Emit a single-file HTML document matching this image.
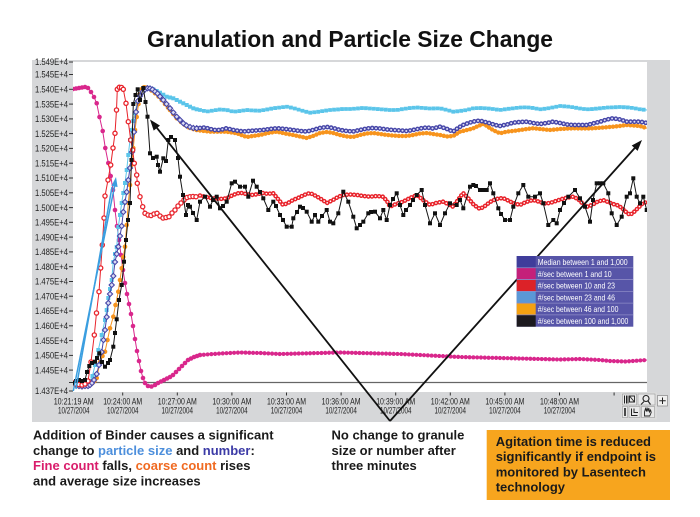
<!DOCTYPE html>
<html><head><meta charset="utf-8"><style>
html,body{margin:0;padding:0;background:#fff;}
svg{display:block;}
</style></head><body>
<svg width="700" height="517" viewBox="0 0 700 517" xmlns="http://www.w3.org/2000/svg" font-family="Liberation Sans, Arial, sans-serif">
<defs>
<clipPath id="pc"><rect x="73" y="62" width="574" height="330"/></clipPath>
<marker id="mMag" markerUnits="userSpaceOnUse" markerWidth="8" markerHeight="8" refX="4" refY="4" overflow="visible"><circle cx="4" cy="4" r="2.3" fill="#d9278c"/></marker>
<marker id="mRed" markerUnits="userSpaceOnUse" markerWidth="8" markerHeight="8" refX="4" refY="4" overflow="visible"><circle cx="4" cy="4" r="2.1" fill="#fff" stroke="#e8232b" stroke-width="1.3"/></marker>
<marker id="mBlk" markerUnits="userSpaceOnUse" markerWidth="8" markerHeight="8" refX="4" refY="4" overflow="visible"><rect x="2" y="2" width="4" height="4" fill="#111"/></marker>
<marker id="mMed" markerUnits="userSpaceOnUse" markerWidth="8" markerHeight="8" refX="4" refY="4" overflow="visible"><path d="M4 1.4 L6.6 4 L4 6.6 L1.4 4 Z" fill="#dcdcf4" stroke="#4646a8" stroke-width="1.1"/></marker>
<marker id="mOra" markerUnits="userSpaceOnUse" markerWidth="8" markerHeight="8" refX="4" refY="4" overflow="visible"><circle cx="4" cy="4" r="2.3" fill="#f7941d"/></marker>
<marker id="mLb" markerUnits="userSpaceOnUse" markerWidth="8" markerHeight="8" refX="4" refY="4" overflow="visible"><rect x="2" y="2" width="4" height="4" fill="#5bc5ea"/></marker>
</defs>

<!-- Title -->
<text x="350" y="47" text-anchor="middle" font-size="23" font-weight="bold" fill="#111" textLength="406" lengthAdjust="spacingAndGlyphs">Granulation and Particle Size Change</text>

<!-- Chart panel -->
<rect x="32" y="60" width="638" height="362" fill="#d6d7d9"/>
<rect x="73" y="62" width="574" height="330" fill="#fff"/>
<line x1="73" y1="382.5" x2="647" y2="382.5" stroke="#666" stroke-width="1.2"/>

<!-- Y axis labels -->
<g font-size="9" fill="#222" text-anchor="end">
<text x="68" y="65.2" textLength="33" lengthAdjust="spacingAndGlyphs">1.549E+4</text>
<text x="68" y="77.7" textLength="33" lengthAdjust="spacingAndGlyphs">1.545E+4</text>
<text x="68" y="92.5" textLength="33" lengthAdjust="spacingAndGlyphs">1.540E+4</text>
<text x="68" y="107.3" textLength="33" lengthAdjust="spacingAndGlyphs">1.535E+4</text>
<text x="68" y="122.1" textLength="33" lengthAdjust="spacingAndGlyphs">1.530E+4</text>
<text x="68" y="136.8" textLength="33" lengthAdjust="spacingAndGlyphs">1.525E+4</text>
<text x="68" y="151.6" textLength="33" lengthAdjust="spacingAndGlyphs">1.520E+4</text>
<text x="68" y="166.4" textLength="33" lengthAdjust="spacingAndGlyphs">1.515E+4</text>
<text x="68" y="181.2" textLength="33" lengthAdjust="spacingAndGlyphs">1.510E+4</text>
<text x="68" y="196" textLength="33" lengthAdjust="spacingAndGlyphs">1.505E+4</text>
<text x="68" y="210.8" textLength="33" lengthAdjust="spacingAndGlyphs">1.500E+4</text>
<text x="68" y="225.5" textLength="33" lengthAdjust="spacingAndGlyphs">1.495E+4</text>
<text x="68" y="240.3" textLength="33" lengthAdjust="spacingAndGlyphs">1.490E+4</text>
<text x="68" y="255.1" textLength="33" lengthAdjust="spacingAndGlyphs">1.485E+4</text>
<text x="68" y="269.9" textLength="33" lengthAdjust="spacingAndGlyphs">1.480E+4</text>
<text x="68" y="284.7" textLength="33" lengthAdjust="spacingAndGlyphs">1.475E+4</text>
<text x="68" y="299.4" textLength="33" lengthAdjust="spacingAndGlyphs">1.470E+4</text>
<text x="68" y="314.2" textLength="33" lengthAdjust="spacingAndGlyphs">1.465E+4</text>
<text x="68" y="329" textLength="33" lengthAdjust="spacingAndGlyphs">1.460E+4</text>
<text x="68" y="343.8" textLength="33" lengthAdjust="spacingAndGlyphs">1.455E+4</text>
<text x="68" y="358.6" textLength="33" lengthAdjust="spacingAndGlyphs">1.450E+4</text>
<text x="68" y="373.3" textLength="33" lengthAdjust="spacingAndGlyphs">1.445E+4</text>
<text x="68" y="394.2" textLength="33" lengthAdjust="spacingAndGlyphs">1.437E+4</text>
</g>
<g stroke="#333" stroke-width="1">
<line x1="69" y1="62" x2="73" y2="62"/><line x1="69" y1="74.5" x2="73" y2="74.5"/><line x1="69" y1="89.3" x2="73" y2="89.3"/>
<line x1="69" y1="104.1" x2="73" y2="104.1"/><line x1="69" y1="118.9" x2="73" y2="118.9"/><line x1="69" y1="133.6" x2="73" y2="133.6"/>
<line x1="69" y1="148.4" x2="73" y2="148.4"/><line x1="69" y1="163.2" x2="73" y2="163.2"/><line x1="69" y1="178" x2="73" y2="178"/>
<line x1="69" y1="192.8" x2="73" y2="192.8"/><line x1="69" y1="207.6" x2="73" y2="207.6"/><line x1="69" y1="222.3" x2="73" y2="222.3"/>
<line x1="69" y1="237.1" x2="73" y2="237.1"/><line x1="69" y1="251.9" x2="73" y2="251.9"/><line x1="69" y1="266.7" x2="73" y2="266.7"/>
<line x1="69" y1="281.5" x2="73" y2="281.5"/><line x1="69" y1="296.2" x2="73" y2="296.2"/><line x1="69" y1="311" x2="73" y2="311"/>
<line x1="69" y1="325.8" x2="73" y2="325.8"/><line x1="69" y1="340.6" x2="73" y2="340.6"/><line x1="69" y1="355.4" x2="73" y2="355.4"/>
<line x1="69" y1="370.1" x2="73" y2="370.1"/><line x1="69" y1="382.5" x2="73" y2="382.5"/><line x1="69" y1="391" x2="73" y2="391"/>
</g>

<!-- X ticks -->
<g stroke="#333" stroke-width="1">
<line x1="122.7" y1="392.5" x2="122.7" y2="395.5"/><line x1="177.3" y1="392.5" x2="177.3" y2="395.5"/>
<line x1="231.9" y1="392.5" x2="231.9" y2="395.5"/><line x1="286.5" y1="392.5" x2="286.5" y2="395.5"/>
<line x1="341.1" y1="392.5" x2="341.1" y2="395.5"/><line x1="395.7" y1="392.5" x2="395.7" y2="395.5"/>
<line x1="450.3" y1="392.5" x2="450.3" y2="395.5"/><line x1="504.9" y1="392.5" x2="504.9" y2="395.5"/>
<line x1="559.5" y1="392.5" x2="559.5" y2="395.5"/><line x1="614.1" y1="392.5" x2="614.1" y2="395.5"/>
</g>
<g font-size="9" fill="#222" text-anchor="middle">
<text x="73.7" y="404.5" textLength="40" lengthAdjust="spacingAndGlyphs">10:21:19 AM</text><text x="73.7" y="413.5" textLength="31.5" lengthAdjust="spacingAndGlyphs">10/27/2004</text>
<text x="122.7" y="404.5" textLength="39" lengthAdjust="spacingAndGlyphs">10:24:00 AM</text><text x="122.7" y="413.5" textLength="31.5" lengthAdjust="spacingAndGlyphs">10/27/2004</text>
<text x="177.3" y="404.5" textLength="39" lengthAdjust="spacingAndGlyphs">10:27:00 AM</text><text x="177.3" y="413.5" textLength="31.5" lengthAdjust="spacingAndGlyphs">10/27/2004</text>
<text x="231.9" y="404.5" textLength="39" lengthAdjust="spacingAndGlyphs">10:30:00 AM</text><text x="231.9" y="413.5" textLength="31.5" lengthAdjust="spacingAndGlyphs">10/27/2004</text>
<text x="286.5" y="404.5" textLength="39" lengthAdjust="spacingAndGlyphs">10:33:00 AM</text><text x="286.5" y="413.5" textLength="31.5" lengthAdjust="spacingAndGlyphs">10/27/2004</text>
<text x="341.1" y="404.5" textLength="39" lengthAdjust="spacingAndGlyphs">10:36:00 AM</text><text x="341.1" y="413.5" textLength="31.5" lengthAdjust="spacingAndGlyphs">10/27/2004</text>
<text x="395.7" y="404.5" textLength="39" lengthAdjust="spacingAndGlyphs">10:39:00 AM</text><text x="395.7" y="413.5" textLength="31.5" lengthAdjust="spacingAndGlyphs">10/27/2004</text>
<text x="450.3" y="404.5" textLength="39" lengthAdjust="spacingAndGlyphs">10:42:00 AM</text><text x="450.3" y="413.5" textLength="31.5" lengthAdjust="spacingAndGlyphs">10/27/2004</text>
<text x="504.9" y="404.5" textLength="39" lengthAdjust="spacingAndGlyphs">10:45:00 AM</text><text x="504.9" y="413.5" textLength="31.5" lengthAdjust="spacingAndGlyphs">10/27/2004</text>
<text x="559.5" y="404.5" textLength="39" lengthAdjust="spacingAndGlyphs">10:48:00 AM</text><text x="559.5" y="413.5" textLength="31.5" lengthAdjust="spacingAndGlyphs">10/27/2004</text>
</g>

<!-- Toolbar -->
<g>
<rect x="621" y="392.5" width="36" height="27" fill="#dcdcdc"/>
<rect x="622.5" y="394" width="14" height="11" fill="#e9e9e9" stroke="#999" stroke-width="0.6"/>
<path d="M624.5 395.5v8M626.5 395.5v8M628 395.5v8" stroke="#222" stroke-width="1"/>
<path d="M629.5 396h5v6h-5z M629.5 396l5 6" stroke="#222" stroke-width="0.9" fill="none"/>
<rect x="638" y="394" width="17" height="11" fill="#e9e9e9" stroke="#999" stroke-width="0.6"/>
<circle cx="646" cy="398.5" r="3" fill="none" stroke="#222" stroke-width="1.1"/>
<path d="M644 401.5l-3 3M648 401l2.5 3.5" stroke="#222" stroke-width="1.1"/>
<rect x="622.5" y="406.5" width="5" height="11" fill="#e9e9e9" stroke="#999" stroke-width="0.6"/>
<path d="M625 408v8" stroke="#222" stroke-width="1.6"/>
<rect x="629" y="406.5" width="11" height="11" fill="#e9e9e9" stroke="#999" stroke-width="0.6"/>
<path d="M631.5 408.5v7h6M634 408.5v4h4" stroke="#222" stroke-width="1" fill="none"/>
<rect x="641.5" y="406.5" width="13" height="11" fill="#e9e9e9" stroke="#999" stroke-width="0.6"/>
<path d="M644.5 416v-4l1-3.5 1 3 0.5-4 1 4 0.8-3.5 0.8 4 1-2 0.6 2.5-1.5 3.5z" fill="none" stroke="#222" stroke-width="0.9"/>
<rect x="657.5" y="395.5" width="10" height="10.5" fill="#efefef" stroke="#888" stroke-width="0.7"/>
<path d="M662.5 397.5v6.5M659.3 400.75h6.4" stroke="#222" stroke-width="1"/>
</g>

<!-- Series -->
<g clip-path="url(#pc)" fill="none" stroke-linejoin="round">

<!-- Magenta: #/sec 1-10 -->
<polyline stroke="#d9278c" stroke-width="1" points="73,89 76,88.5 79,88 82,87.5 85,87 88,88 91,92 94,97 96.7,103.3 99.5,117 102.7,131 105.3,148 108.3,163 110.7,176 113,190 115,210 117,226 119,240 121,255 123,270 125,283 127,294 129,304 131,314 133,326 135,339 137,351 139,361 141,371 143,378 145,383 148,386 151.5,386.5 155,385 158,383 161,381.5 164,380 167,378.5 170,377 173,375 176,372 179,369 182,366 185,363 188,360 191,358.5 194,357 197,356 200,355 220,353.5 240,352.5 260,353 280,354 300,353.5 320,353 340,352.5 360,353 380,353.5 400,354 420,355 440,356 460,357 480,357.5 500,358 520,358.5 540,359 560,359.5 580,359 600,360 610,361 625,361.5 647,360"/>
<polyline stroke="none" marker-start="url(#mMag)" marker-mid="url(#mMag)" marker-end="url(#mMag)" points="73,89 76,88.5 79,88 82,87.5 85,87 88,88 91,92 94,97 96.7,103.3 99.5,117 102.7,131 105.3,148 108.3,163 110.7,176 113,190 115,210 117,226 119,240 121,255 123,270 125,283 127,294 129,304 131,314 133,326 135,339 137,351 139,361 141,371 143,378 145,383 148,386 151.5,386.5 155,385 158,383 161,381.5 164,380 167,378.5 170,377 173,375 176,372 179,369 182,366 185,363 188,360 191,358.5 194,357 197,356 200,355"/>
<polyline stroke="#d9278c" stroke-width="4.2" stroke-linecap="round" stroke-dasharray="0 3.8" points="200,355 220,353.5 240,352.5 260,353 280,354 300,353.5 320,353 340,352.5 360,353 380,353.5 400,354 420,355 440,356 460,357 480,357.5 500,358 520,358.5 540,359 560,359.5 580,359 600,360 610,361 625,361.5 647,360"/>

<!-- Light blue: #/sec 23-46 -->
<polyline stroke="#5bc5ea" stroke-width="1" points="73,384 76,385.5 79,386 82,386 85,385.5 88,384 90,381 92.5,376 95,365 98.3,350 101.7,335 105,320 106.7,310 108.3,298 110,289 111.7,280 113.3,262 115,254 116.7,247 118.3,227 120,215 121.7,203 123.3,193 125,183 126.7,170 128.3,155 130,140 131.7,130 133.3,121 135,113 137.5,102 140,93.3 143,90 146.7,88.3 150,88.5 153.3,89.3 156.7,91 160,92.7 163.3,94.7 166.7,96.7 170,97.5 173.3,98.3 176.7,100 180,101.7 183.3,103.3 186.7,105 190,106.7 193.3,108.3 196.7,109.3 200,110 207,111.5 213.3,110.5 220,109.5 227,110 233.3,111.7 240,111 246.7,110 253,110.5 260,110.7 267,109.5 273.3,108.3 280,107.5 286.7,106.7 293,108 300,110 305,111.5 310,112.7 317,112 323,111 330,110 337,109.5 343,109 350,109 357,108.5 363,108 370,108.5 377,109 383,109.5 390,110 397,110 403,109 410,108 417,107.5 423,108 430,108.5 440,108.3 447,110 453.3,111.7 460,111 466.7,110 473.3,108.3 480,108 486.7,108.3 493,109 500,110 507,109 513.3,108.3 520,107.5 526.7,107.3 533,108 540,109.3 547,108.5 553.3,107.3 560,106 567,106.5 573.3,107.3 580,108.5 586.7,109.3 593,109 600,108.3 607,107.5 613.3,107.3 620,107 626.7,107.3 633,108 640,109.3 647,110"/>
<polyline stroke="none" marker-start="url(#mLb)" marker-mid="url(#mLb)" points="73,384 76,385.5 79,386 82,386 85,385.5 88,384 90,381 92.5,376 95,365 98.3,350 101.7,335 105,320 106.7,310 108.3,298 110,289 111.7,280 113.3,262 115,254 116.7,247 118.3,227 120,215 121.7,203 123.3,193 125,183 126.7,170 128.3,155 130,140 131.7,130 133.3,121 135,113 137.5,102 140,93.3 143,90 146.7,88.3 150,88.5 153.3,89.3 156.7,91 160,92.7 163.3,94.7 166.7,96.7 170,97.5 173.3,98.3 176.7,100 180,101.7 183.3,103.3 186.7,105 190,106.7 193.3,108.3 196.7,109.3 200,110"/>
<polyline stroke="#5bc5ea" stroke-width="3.8" stroke-linecap="square" stroke-dasharray="0 4" points="200,110 207,111.5 213.3,110.5 220,109.5 227,110 233.3,111.7 240,111 246.7,110 253,110.5 260,110.7 267,109.5 273.3,108.3 280,107.5 286.7,106.7 293,108 300,110 305,111.5 310,112.7 317,112 323,111 330,110 337,109.5 343,109 350,109 357,108.5 363,108 370,108.5 377,109 383,109.5 390,110 397,110 403,109 410,108 417,107.5 423,108 430,108.5 440,108.3 447,110 453.3,111.7 460,111 466.7,110 473.3,108.3 480,108 486.7,108.3 493,109 500,110 507,109 513.3,108.3 520,107.5 526.7,107.3 533,108 540,109.3 547,108.5 553.3,107.3 560,106 567,106.5 573.3,107.3 580,108.5 586.7,109.3 593,109 600,108.3 607,107.5 613.3,107.3 620,107 626.7,107.3 633,108 640,109.3 647,110"/>

<!-- Orange: #/sec 46-100 -->
<polyline stroke="#f7941d" stroke-width="1" points="73,384 76,385.5 79,386.5 82,386.5 85,386.5 88,386 90,385 92.5,383 94.5,381 96.7,378 100,362 102.5,356 105,351.7 107.5,340 110,328.3 113.3,316.7 115.5,305 118.3,291.7 120,280 121.7,268.3 123.3,257 125,246.7 126.7,225 128.3,203 130,185 131.5,165 133.3,148 135,130 136.7,117 138.5,104 140,94 142,89 144,87.3 146,87.5 148.3,88.3 151.5,90.5 155,93.3 158.5,96.5 161.7,100 165,104 168,107.5 170,110 173.3,114 176.7,118.3 181,122 185,125 189,127.5 193.3,129 196.7,130 200,130.5 210,131.7 220,131.7 226.7,131.7 236.7,133.3 246.7,137 253,136 260,135 268,133 276.7,131.7 285,133.5 293.3,135 300,136.5 306.7,138 313,136 320,133 327,132 333,133 340,135 347,136.5 353,137 360,135 367,133.5 373,133 380,134 387,135 393,135.5 400,136 407,136 413,135 420,133.5 427,133 433,134 440,135 447,136.5 453.3,136 460,131.7 467,130 473.3,128.3 478,126 483.3,124 487,126 490,128.3 495,131 500,133.3 506.7,131.7 513,131 520,130 527,129 533.3,128.3 540,129 550,130 560,129 573.3,128.3 583,128.5 593.3,128.3 603,127.5 613.3,126.7 620,126 626.7,125 633,125.5 640,126 647,128.3"/>
<polyline stroke="none" marker-start="url(#mOra)" marker-mid="url(#mOra)" points="73,384 76,385.5 79,386.5 82,386.5 85,386.5 88,386 90,385 92.5,383 94.5,381 96.7,378 100,362 102.5,356 105,351.7 107.5,340 110,328.3 113.3,316.7 115.5,305 118.3,291.7 120,280 121.7,268.3 123.3,257 125,246.7 126.7,225 128.3,203 130,185 131.5,165 133.3,148 135,130 136.7,117 138.5,104 140,94 142,89 144,87.3 146,87.5 148.3,88.3 151.5,90.5 155,93.3 158.5,96.5 161.7,100 165,104 168,107.5 170,110 173.3,114 176.7,118.3 181,122 185,125 189,127.5 193.3,129 196.7,130 200,130.5"/>
<polyline stroke="#f7941d" stroke-width="4.4" stroke-linecap="round" stroke-dasharray="0 3.5" points="200,130.5 210,131.7 220,131.7 226.7,131.7 236.7,133.3 246.7,137 253,136 260,135 268,133 276.7,131.7 285,133.5 293.3,135 300,136.5 306.7,138 313,136 320,133 327,132 333,133 340,135 347,136.5 353,137 360,135 367,133.5 373,133 380,134 387,135 393,135.5 400,136 407,136 413,135 420,133.5 427,133 433,134 440,135 447,136.5 453.3,136 460,131.7 467,130 473.3,128.3 478,126 483.3,124 487,126 490,128.3 495,131 500,133.3 506.7,131.7 513,131 520,130 527,129 533.3,128.3 540,129 550,130 560,129 573.3,128.3 583,128.5 593.3,128.3 603,127.5 613.3,126.7 620,126 626.7,125 633,125.5 640,126 647,128.3"/>

<!-- Median -->
<polyline stroke="#4646a8" stroke-width="1" points="73,383 76,385 79,386 82,386.5 85,386 88,386 90,385 92,383 94,380 96.7,374 99,365 101.7,352 103.5,340 105,330 106.7,317 108.3,303 110,294 111.7,285 113.3,276 115,262 116.7,254 118.3,246.7 120,236 121.7,226 123.3,212 125,202 126.7,192 128.3,180 130,168 132,152 134,132 136,112 138,101 140,96 142.5,92 145,89.5 147.5,88.3 150,88.5 152.5,89.5 155,91.5 157.5,93.5 160,96.5 163.3,100 166.5,104 170,108.3 173.3,112.5 176.7,116.7 180,120 183.3,123.3 186.5,125.5 190,127 193.3,128 196.7,128.3 200,128 205,127.5 210,129 215,130 220,130 226.7,128.3 233,130 243,131.5 253,130.7 263,130 270,129 277,128.3 285,129 293,130 300,131 307,131.5 313,130 320,128 327,127 333,128 340,130 347,131 353,131.5 360,130 367,128.5 373,128 380,128.5 387,129.5 393,130 400,130.5 407,131 413,130 420,128.5 427,127.5 433,128.5 440,126.7 446,128.5 453,131.7 458,128 463,125 470,122.5 476,121 480,120.7 485,122 490,123.3 495,125 500,126 507,124.5 513,122.7 520,122 527,121.7 533,123 540,124 547,123 553,121.7 560,123 567,124.5 573,125 580,125 587,125 593,123.5 600,121.7 607,119.5 613,118.3 620,119.5 627,121.7 633,121.7 640,121.7 647,123"/>
<polyline stroke="none" marker-start="url(#mMed)" marker-mid="url(#mMed)" points="73,383 76,385 79,386 82,386.5 85,386 88,386 90,385 92,383 94,380 96.7,374 99,365 101.7,352 103.5,340 105,330 106.7,317 108.3,303 110,294 111.7,285 113.3,276 115,262 116.7,254 118.3,246.7 120,236 121.7,226 123.3,212 125,202 126.7,192 128.3,180 130,168 132,152 134,132 136,112 138,101 140,96 142.5,92 145,89.5 147.5,88.3 150,88.5 152.5,89.5 155,91.5 157.5,93.5 160,96.5 163.3,100 166.5,104 170,108.3 173.3,112.5 176.7,116.7 180,120 183.3,123.3 186.5,125.5 190,127 193.3,128 196.7,128.3 200,128"/>
<polyline stroke="#4646a8" stroke-width="4.8" stroke-linecap="round" stroke-dasharray="0 3.8" points="200,128 205,127.5 210,129 215,130 220,130 226.7,128.3 233,130 243,131.5 253,130.7 263,130 270,129 277,128.3 285,129 293,130 300,131 307,131.5 313,130 320,128 327,127 333,128 340,130 347,131 353,131.5 360,130 367,128.5 373,128 380,128.5 387,129.5 393,130 400,130.5 407,131 413,130 420,128.5 427,127.5 433,128.5 440,126.7 446,128.5 453,131.7 458,128 463,125 470,122.5 476,121 480,120.7 485,122 490,123.3 495,125 500,126 507,124.5 513,122.7 520,122 527,121.7 533,123 540,124 547,123 553,121.7 560,123 567,124.5 573,125 580,125 587,125 593,123.5 600,121.7 607,119.5 613,118.3 620,119.5 627,121.7 633,121.7 640,121.7 647,123"/>
<polyline stroke="#dcdcf4" stroke-width="2" stroke-linecap="round" stroke-dasharray="0 3.8" points="200,128 205,127.5 210,129 215,130 220,130 226.7,128.3 233,130 243,131.5 253,130.7 263,130 270,129 277,128.3 285,129 293,130 300,131 307,131.5 313,130 320,128 327,127 333,128 340,130 347,131 353,131.5 360,130 367,128.5 373,128 380,128.5 387,129.5 393,130 400,130.5 407,131 413,130 420,128.5 427,127.5 433,128.5 440,126.7 446,128.5 453,131.7 458,128 463,125 470,122.5 476,121 480,120.7 485,122 490,123.3 495,125 500,126 507,124.5 513,122.7 520,122 527,121.7 533,123 540,124 547,123 553,121.7 560,123 567,124.5 573,125 580,125 587,125 593,123.5 600,121.7 607,119.5 613,118.3 620,119.5 627,121.7 633,121.7 640,121.7 647,123"/>

<!-- Red: #/sec 10-23 -->
<polyline stroke="#e8232b" stroke-width="1" points="73,383 76,384 79,384.5 82,385 85,384 88,381 91,362 94.3,335 96.5,313 99,291.7 100.7,268 102.3,245 104,218 105,196 108,180 110.7,165 113,148 115,133.3 116.5,110 117.3,89.3 119.3,87.3 121.5,87.5 123.3,89.3 126,103.3 128.3,121.7 130.7,140 132.7,150 134.3,163.3 136.7,175 137.3,183.3 140,196.7 142.7,206.7 145,213.3 148,215 151,215.5 154,214 157,213.3 160,216 163,218 166,217.5 169,216.7 172,213 175,210 178,206 181,203 184,200 187,197.5 190,196.7 193,196.5 196,196.7 200,195.5 206,197 213,198.3 220,199 226.7,198.3 233,195 240,192.7 246,194 253,195 258,194 263,193 268,194 273,193 278,199 283,205 288,203 293,200 298,198 304,195 310,193 316,196 321,199 327,203 333,200 338,197 343,195 350,194.5 357,195 363,196 370,196.7 377,196 383,196.7 387,201 390,206.7 396,204 403,201.7 410,198 417,195 423,200 430,205 436,203 443,201.7 448,204 453,206.7 458,200 463,193 468,198 474,205 480,209 485,206 490,202 496,199 503,198 507,200 513,203 520,205 526,202 533,200 540,202 545,203.5 550,203 556,201 562,199 568,197.5 573,196.7 578,199 583,204 587,206.7 592,205 597,202 603,200 608,202 613,204 617,205 622,208 626,212 630,215 634,212 638,208 642,204 647,201.7"/>
<polyline stroke="none" marker-start="url(#mRed)" marker-mid="url(#mRed)" points="73,383 76,384 79,384.5 82,385 85,384 88,381 91,362 94.3,335 96.5,313 99,291.7 100.7,268 102.3,245 104,218 105,196 108,180 110.7,165 113,148 115,133.3 116.5,110 117.3,89.3 119.3,87.3 121.5,87.5 123.3,89.3 126,103.3 128.3,121.7 130.7,140 132.7,150 134.3,163.3 136.7,175 137.3,183.3 140,196.7 142.7,206.7 145,213.3 148,215 151,215.5 154,214 157,213.3 160,216 163,218 166,217.5 169,216.7 172,213 175,210 178,206 181,203 184,200 187,197.5 190,196.7 193,196.5 196,196.7 200,195.5"/>
<polyline stroke="#e8232b" stroke-width="4.6" stroke-linecap="round" stroke-dasharray="0 3.6" points="200,195.5 206,197 213,198.3 220,199 226.7,198.3 233,195 240,192.7 246,194 253,195 258,194 263,193 268,194 273,193 278,199 283,205 288,203 293,200 298,198 304,195 310,193 316,196 321,199 327,203 333,200 338,197 343,195 350,194.5 357,195 363,196 370,196.7 377,196 383,196.7 387,201 390,206.7 396,204 403,201.7 410,198 417,195 423,200 430,205 436,203 443,201.7 448,204 453,206.7 458,200 463,193 468,198 474,205 480,209 485,206 490,202 496,199 503,198 507,200 513,203 520,205 526,202 533,200 540,202 545,203.5 550,203 556,201 562,199 568,197.5 573,196.7 578,199 583,204 587,206.7 592,205 597,202 603,200 608,202 613,204 617,205 622,208 626,212 630,215 634,212 638,208 642,204 647,201.7"/>
<polyline stroke="#fff" stroke-width="1.7" stroke-linecap="round" stroke-dasharray="0 3.6" points="200,195.5 206,197 213,198.3 220,199 226.7,198.3 233,195 240,192.7 246,194 253,195 258,194 263,193 268,194 273,193 278,199 283,205 288,203 293,200 298,198 304,195 310,193 316,196 321,199 327,203 333,200 338,197 343,195 350,194.5 357,195 363,196 370,196.7 377,196 383,196.7 387,201 390,206.7 396,204 403,201.7 410,198 417,195 423,200 430,205 436,203 443,201.7 448,204 453,206.7 458,200 463,193 468,198 474,205 480,209 485,206 490,202 496,199 503,198 507,200 513,203 520,205 526,202 533,200 540,202 545,203.5 550,203 556,201 562,199 568,197.5 573,196.7 578,199 583,204 587,206.7 592,205 597,202 603,200 608,202 613,204 617,205 622,208 626,212 630,215 634,212 638,208 642,204 647,201.7"/>

<!-- Black: #/sec 100-1000 -->
<polyline stroke="#151515" stroke-width="1" marker-start="url(#mBlk)" marker-mid="url(#mBlk)" marker-end="url(#mBlk)" points="73,383 76,381 79,380 82,381 85,380 87,372 89.3,366 92,363 95,361.7 97,358 99.3,353.3 102,362 105,366.7 108,363 110,360 113.3,346.7 115,333 116.7,319.3 119,300 121.7,285 124,261.7 126,240 128,220 130,203 131.5,160 133.3,104 135.5,95 137.7,89.3 140,100 143.3,88 145.5,102 147.5,116.7 150,153.3 153,158 156.7,156.7 158,165 160,171.7 163.3,158.3 166,161 168.3,140 171,137 175,140 178,158 180,176.7 183,195 186,215 188,205 190,206.7 193,213 196.7,220 200,201.7 205,196.7 210,206.7 213,200 216.7,196.7 220,208.3 223,206 226.7,201.7 231.7,183.3 235,181.7 240,186.7 245,186.7 248.3,196.7 253,180.7 256.7,186.7 260,192 263.3,198.3 268.3,210 273.3,201.7 276,206 280,215 283,220 286.7,226.7 291.7,226.7 293.3,218.3 297,212 300,206.7 303,208 306.7,211.7 311.7,221.7 315,215 318.3,221.7 322,216 326.7,210 330,221.7 333.3,223.3 338.3,213.3 343.3,191.7 348.3,201.7 353.3,216.7 356.7,228.3 360,225 363.3,221.7 368.3,213.3 371,212 375,211.7 380,218.3 383.3,210 386.7,220 390,205 393,199 396.7,193.3 400,205 403.3,215 406,210 410,205 413,200 416.7,195 421.7,190 425,205 430,223.3 435,213.3 440,225 445,213.3 450,203.3 456.7,205 460,200 463.3,208.3 470,186.7 473.3,185 476,186 480,190 483.3,190 486.7,190 490,183.3 493.3,193.3 498.3,208.3 501,214 505,220 510,220 513.3,206.7 518.3,193.3 523.3,185 528.3,196.7 535,196.7 540,193.3 543.3,203.3 548.3,225 553.3,220 556.7,223.3 560,210 564,203 568.3,196.7 575,190 580,198.3 585,206.7 590,221.7 593,200 596.7,183.3 600,183.3 603.3,183.3 608.3,193.3 611.7,213.3 616.7,225 621.7,216.7 626.7,196.7 630,193.3 633.3,178.3 636.7,196.7 640,203.3 643.3,196.7 646.7,210"/>
</g>

<!-- Blue arrows -->
<g stroke="#3a9ee0" stroke-width="1.5" fill="none">
<line x1="73.3" y1="391" x2="115" y2="184"/>
<line x1="76" y1="389" x2="112" y2="187"/>
</g>
<polygon points="116,177 117.6,187 111.4,186" fill="#3a9ee0"/>

<!-- Black annotation arrows -->
<g stroke="#111" stroke-width="1.8" fill="none">
<line x1="390" y1="421" x2="155" y2="125.5"/>
<line x1="390" y1="421" x2="637" y2="145.5"/>
</g>
<polygon points="150,119.5 160,125.6 153.7,130.6" fill="#111"/>
<polygon points="642,140 637.6,150.9 631.7,145.5" fill="#111"/>

<!-- Legend -->
<g>
<rect x="516.7" y="256" width="116.6" height="70.7" fill="#5755a8"/>
<rect x="516.7" y="256" width="19" height="11.78" fill="#3f3d9b"/>
<rect x="516.7" y="267.78" width="19" height="11.78" fill="#c4207a"/>
<rect x="516.7" y="279.56" width="19" height="11.78" fill="#dc2228"/>
<rect x="516.7" y="291.34" width="19" height="11.78" fill="#5b98d6"/>
<rect x="516.7" y="303.12" width="19" height="11.78" fill="#f4a111"/>
<rect x="516.7" y="314.9" width="19" height="11.8" fill="#1c1a1e"/>
<g stroke="#8c8ac6" stroke-width="0.8">
<line x1="516.7" y1="267.78" x2="633.3" y2="267.78"/>
<line x1="516.7" y1="279.56" x2="633.3" y2="279.56"/>
<line x1="516.7" y1="291.34" x2="633.3" y2="291.34"/>
<line x1="516.7" y1="303.12" x2="633.3" y2="303.12"/>
<line x1="516.7" y1="314.9" x2="633.3" y2="314.9"/>
</g>
<g font-size="8.5" fill="#fff">
<text x="537.7" y="265" textLength="90" lengthAdjust="spacingAndGlyphs">Median between 1 and 1,000</text>
<text x="537.7" y="276.8" textLength="74" lengthAdjust="spacingAndGlyphs">#/sec between 1 and 10</text>
<text x="537.7" y="288.6" textLength="77.3" lengthAdjust="spacingAndGlyphs">#/sec between 10 and 23</text>
<text x="537.7" y="300.3" textLength="77.3" lengthAdjust="spacingAndGlyphs">#/sec between 23 and 46</text>
<text x="537.7" y="312.1" textLength="80.7" lengthAdjust="spacingAndGlyphs">#/sec between 46 and 100</text>
<text x="537.7" y="323.9" textLength="90.7" lengthAdjust="spacingAndGlyphs">#/sec between 100 and 1,000</text>
</g>
</g>

<!-- Bottom text -->
<g font-size="13" font-weight="bold" fill="#1a1a1a">
<text x="33" y="439.5">Addition of Binder causes a significant</text>
<text x="33" y="454.8">change to <tspan fill="#4d8fdc">particle size</tspan> and <tspan fill="#3b3aa6">number</tspan>:</text>
<text x="33" y="470"><tspan fill="#d91c6b">Fine count</tspan> falls, <tspan fill="#f06a21">coarse count</tspan> rises</text>
<text x="33" y="485.3">and average size increases</text>

<text x="331.5" y="439.5">No change to granule</text>
<text x="331.5" y="454.8">size or number after</text>
<text x="331.5" y="470">three minutes</text>
</g>
<rect x="486.7" y="430" width="183.3" height="70" fill="#f7a51e"/>
<g font-size="13" font-weight="bold" fill="#1a1a1a">
<text x="495.7" y="446">Agitation time is reduced</text>
<text x="495.7" y="461.2">significantly if endpoint is</text>
<text x="495.7" y="476.4">monitored by Lasentech</text>
<text x="495.7" y="491.6">technology</text>
</g>
</svg>
</body></html>
